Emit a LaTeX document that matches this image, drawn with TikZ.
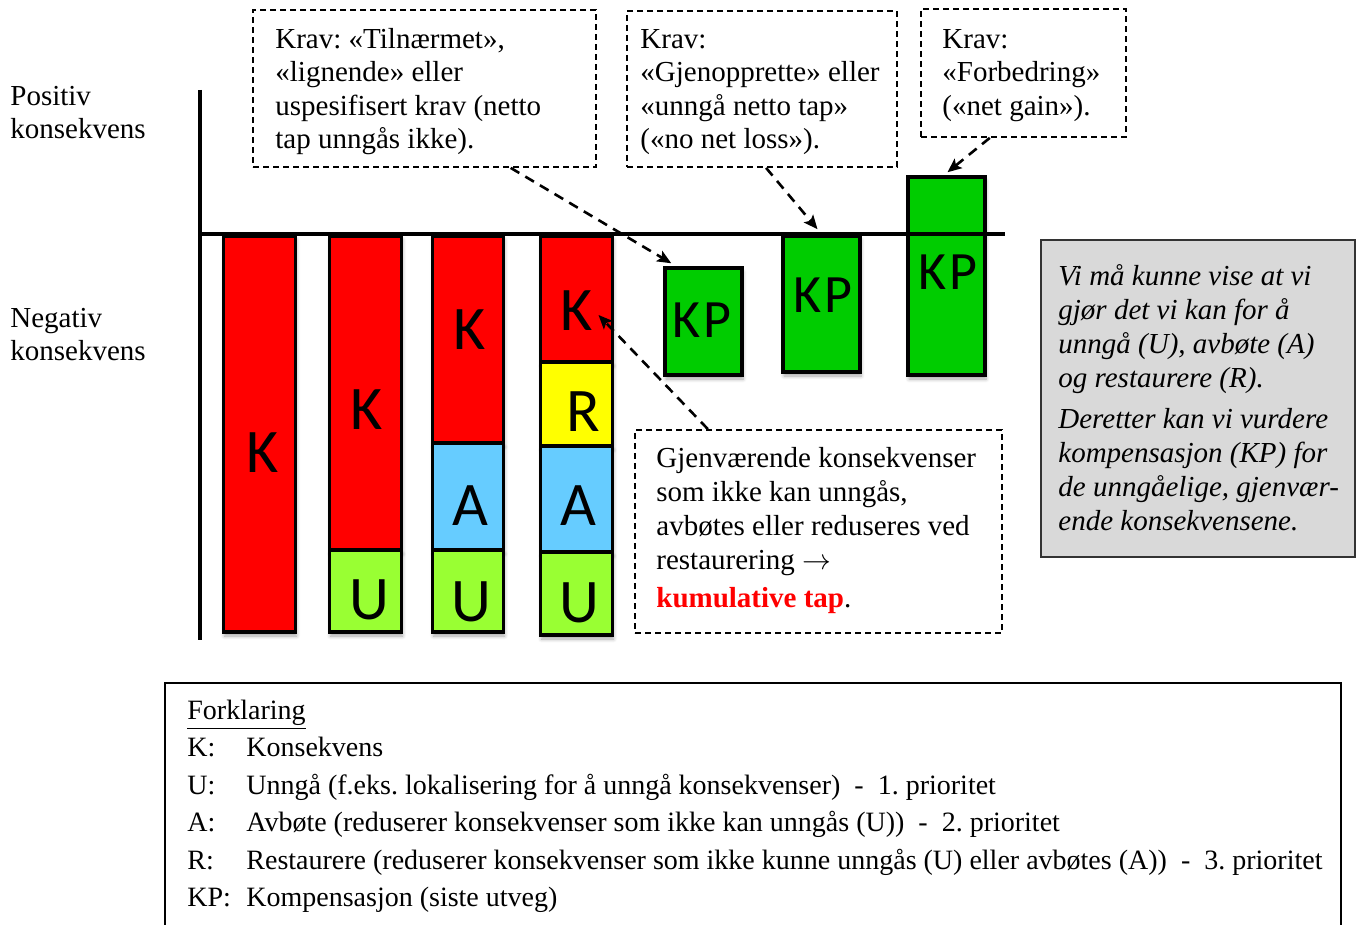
\documentclass[tikz,border=0pt]{standalone}
\usepackage{fontspec}
\setmainfont{Liberation Serif}
\newfontfamily\barfont{Carlito}
\usetikzlibrary{arrows.meta,fit,calc,shadows.blur}
\definecolor{kred}{HTML}{FF0000}
\definecolor{ugreen}{HTML}{99FF33}
\definecolor{ablue}{HTML}{66CCFF}
\definecolor{ryellow}{HTML}{FFFF00}
\definecolor{kpgreen}{HTML}{00CC00}
\definecolor{notegray}{HTML}{D9D9D9}
\frenchspacing
\begin{document}
\begin{tikzpicture}[x=0.5pt,y=-0.5pt,
  seg/.style={draw=black, line width=1.75pt, inner sep=0pt,
    blur shadow={shadow xshift=0.5pt, shadow yshift=-2pt, shadow opacity=35, shadow blur steps=6}},
  frame/.style={draw=black, line width=0.9pt, dash pattern=on 3pt off 2pt, inner sep=0pt},
  txt/.style={anchor=north west, inner sep=0pt, align=left, font=\fontsize{14.5}{16.75}\selectfont},
  lett/.style={inner sep=0pt, font=\barfont\fontsize{31}{31}\selectfont},
  kpl/.style={inner sep=0pt, font=\barfont\fontsize{27}{27}\selectfont},
  conn/.style={line width=1.3pt, dash pattern=on 5pt off 3.5pt, -{Stealth[length=7pt,width=6pt,inset=1.5pt]}},
]
\useasboundingbox (0,0) rectangle (1356,925);

% axes (vertical)
\draw[line width=2.2pt] (200,90) -- (200,640);

% bar 1
\node[seg, fill=kred, fit={(223.5,236) (295.5,632)}] (b1k) {};
\node[lett] (k1) at (263,453) {K};
% bar 2
\node[seg, fill=kred, fit={(329.5,236) (401.5,550)}] (b2k) {};
\node[seg, fill=ugreen, fit={(329.5,550) (401.5,632)}] (b2u) {};
\node[lett] (k2) at (367,410) {K};
\node[lett] (u2) at (369,600) {U};
% bar 3
\node[seg, fill=kred, fit={(432.5,236) (503.5,443)}] (b3k) {};
\node[seg, fill=ablue, fit={(432.5,443) (503.5,550)}] (b3a) {};
\node[seg, fill=ugreen, fit={(432.5,550) (503.5,632)}] (b3u) {};
\node[lett] (k3) at (470,330) {K};
\node[lett] (a3) at (470,506) {A};
\node[lett] (u3) at (471,602) {U};
% bar 4
\node[seg, fill=kred, fit={(540.5,236) (612.5,362)}] (b4k) {};
\node[seg, fill=ryellow, fit={(540.5,362) (612.5,446)}] (b4r) {};
\node[seg, fill=ablue, fit={(540.5,446) (612.5,552)}] (b4a) {};
\node[seg, fill=ugreen, fit={(540.5,552) (612.5,635)}] (b4u) {};
\node[lett] (k4) at (577,311) {K};
\node[lett] (r4) at (583,412) {R};
\node[lett] (a4) at (578,506) {A};
\node[lett] (u4) at (579,603) {U};

% KP boxes
\node[seg, fill=kpgreen, fit={(665,268) (742,375)}] (kp1) {};
\node[kpl] (kp1l) at (702,320) {K\kern1.2pt P};
\node[seg, fill=kpgreen, fit={(783,236) (860,372)}] (kp2) {};
\node[kpl] (kp2l) at (823,295) {K\kern1.2pt P};
\node[seg, fill=kpgreen, fit={(908,177) (985,375)}] (kp3) {};
\node[kpl] (kp3l) at (948,272) {K\kern1.2pt P};

% horizontal axis
\draw[line width=2.2pt] (200,234) -- (1005,234);

% dashed text boxes
\node[frame, fit={(253,10) (596,167)}] (box1) {};
\node[txt] (t1) at (275,24.55) {\strut Krav: «Tilnærmet»,\\«lignende» eller\\uspesifisert krav (netto\\tap unngås ikke).};
\node[frame, fit={(627,11) (897,167)}] (box2) {};
\node[txt] (t2) at (640,24.55) {\strut Krav:\\«Gjenopprette» eller\\«unngå netto tap»\\(«no net loss»).};
\node[frame, fit={(921,9) (1126,137)}] (box3) {};
\node[txt] (t3) at (942,24.55) {\strut Krav:\\«Forbedring»\\(«net gain»).};
\node[frame, fit={(635,430) (1002,633)}] (box4) {};
\node[txt, font=\fontsize{14.5}{17}\selectfont] (t4) at (656,443.2) {\strut Gjenværende konsekvenser\\som ikke kan unngås,\\avbøtes eller reduseres ved\\restaurering $\rightarrow$\\[2pt]\textcolor{kred}{\textbf{kumulative tap}}.};

% connectors
\draw[conn] ($(box1.south west)!0.75!(box1.south east)$) -- ($(kp1.north west)+(8,-3)$);
\draw[conn] ($(box2.south west)!0.515!(box2.south east)$) -- ($(kp2.north)+(-4,-5)$);
\draw[conn] ($(box3.south west)!0.337!(box3.south east)$) -- ($(kp3.north)+(1,-3)$);
\draw[conn] ($(box4.north west)!0.2!(box4.north east)$) -- ($(k4.east)+(5,4)$);

% note box
\node[draw=black!80, fill=notegray, line width=1pt, inner sep=0pt, fit={(1041,240) (1355,557)}] (note) {};
\node[txt, font=\itshape\fontsize{14.5}{17}\selectfont] (notetext) at (1058,261.2) {\strut Vi må kunne vise at vi\\gjør det vi kan for å\\unngå (U), avbøte (A)\\og restaurere (R).\\[3.5pt]Deretter kan vi vurdere\\kompensasjon (KP) for\\de unngåelige, gjenvær-\\ende konsekvensene.};

% left labels
\node[txt, font=\fontsize{14.5}{16.5}\selectfont] (pos) at (10,81.9) {\strut Positiv\\konsekvens};
\node[txt, font=\fontsize{14.5}{16.5}\selectfont] (neg) at (10,303.9) {\strut Negativ\\konsekvens};

% legend
\draw[line width=0.9pt] (165,940) -- (165,683) -- (1341,683) -- (1341,940);
\node[txt, font=\fontsize{14}{18.75}\selectfont] (legend) at (187,692.75) {\strut\underline{Forklaring}\\
\makebox[29.5pt][l]{K:}Konsekvens\\
\makebox[29.5pt][l]{U:}Unngå (f.eks. lokalisering for å unngå konsekvenser)\ \ -\ \ 1. prioritet\\
\makebox[29.5pt][l]{A:}Avbøte (reduserer konsekvenser som ikke kan unngås (U))\ \ -\ \ 2. prioritet\\
\makebox[29.5pt][l]{R:}Restaurere (reduserer konsekvenser som ikke kunne unngås (U) eller avbøtes (A))\ \ -\ \ 3. prioritet\\
\makebox[29.5pt][l]{KP:}Kompensasjon (siste utveg)};
\end{tikzpicture}
\end{document}
